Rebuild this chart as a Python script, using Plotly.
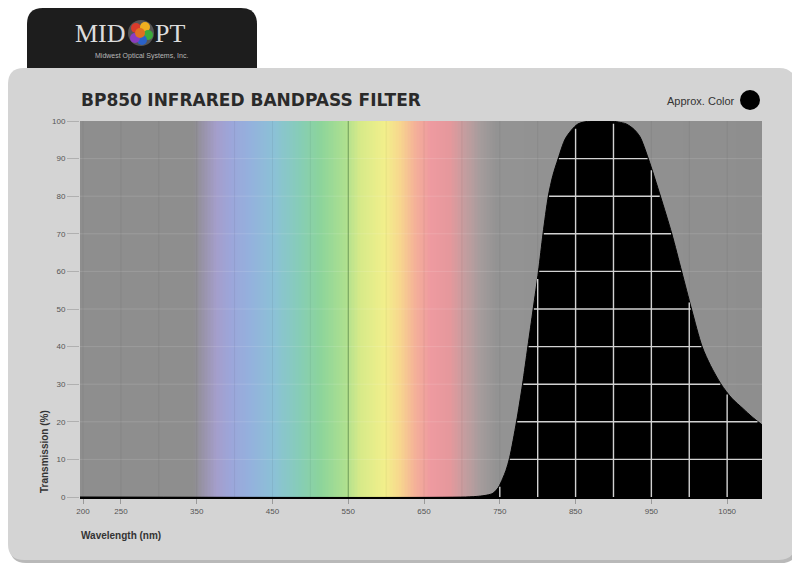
import numpy as np
import plotly.graph_objects as go

# ---------------- data ----------------
wavelength = [196, 705, 722, 733, 741, 748, 754, 758, 763, 772, 780, 787, 794, 801, 807, 814,
              820, 827, 837, 853, 870, 895, 907, 917, 927, 935, 946, 962, 977, 990, 1003,
              1017, 1028, 1042, 1056, 1071, 1083, 1096]
transmission = [0, 0, 0.2, 0.5, 1, 2.5, 5, 7, 10.5, 20, 30, 40, 50, 60, 70, 80,
                85.5, 90, 95.5, 99.2, 100, 100, 99.7, 99.2, 97.8, 95.8, 90, 80, 70, 60, 50,
                40, 35, 30, 26.3, 23.5, 21.3, 19.2]

x_tick_vals = [200, 250, 350, 450, 550, 650, 750, 850, 950, 1050]
x_tick_text = ["200", "250", "350", "450", "550", "650", "750", "850", "950", "1050"]
y_tick_vals = [0, 10, 20, 30, 40, 50, 60, 70, 80, 90, 100]
grid_x = list(range(200, 1100, 50))
grid_y = [10, 20, 30, 40, 50, 60, 70, 80, 90]

spectrum_nm = [196, 345, 358, 376, 396, 420, 453, 486, 513, 546, 565, 598, 618, 638, 658,
               684, 704, 724, 745, 1096]
spectrum_colors = ["#8e8e8e", "#8e8e8e", "#9893a8", "#a49ecb", "#9ca6da", "#94b1dd", "#8bc2d6",
                   "#86cdb6", "#8cd49b", "#aee08f", "#d6ea89", "#f2ef8b", "#f7d68e", "#f4b198",
                   "#ee9aa0", "#e5989c", "#c49d9f", "#a59c9c", "#939393", "#8e8e8e"]

X0, X1 = 196, 1096

# ---------------- layout geometry (page pixels, figure starts at 8,8) ----------------
OFF = 8
W, H = 792, 558
L, R, T, B = 72, 38, 113, 69
PW, PH = W - L - R, H - T - B


def px(x):
    return (x - OFF - L) / PW


def py(y):
    return (H - B - (y - OFF)) / PH


def rrect(x0, y0, x1, y1, r, top_only=False):
    rx, ry = r / PW, r / PH
    a, b, c, d = px(x0), px(x1), py(y0), py(y1)  # c top, d bottom
    if top_only:
        return (f"M {a},{d} L {a},{c - ry} Q {a},{c} {a + rx},{c} L {b - rx},{c} "
                f"Q {b},{c} {b},{c - ry} L {b},{d} Z")
    return (f"M {a + rx},{d} L {b - rx},{d} Q {b},{d} {b},{d + ry} L {b},{c - ry} "
            f"Q {b},{c} {b - rx},{c} L {a + rx},{c} Q {a},{c} {a},{c - ry} "
            f"L {a},{d + ry} Q {a},{d} {a + rx},{d} Z")


fig = go.Figure()

# spectrum background
sx = np.arange(X0, X1 + 1, 2)
cs = [[(n - X0) / (X1 - X0), c] for n, c in zip(spectrum_nm, spectrum_colors)]
fig.add_trace(go.Heatmap(x=sx, y=[-5, 105], z=[sx, sx], colorscale=cs, zmin=X0, zmax=X1,
                         showscale=False, hoverinfo="skip"))

# faint grid over the background
hx, hy = [], []
for g in grid_y:
    hx += [X0, X1, None]
    hy += [g, g, None]
fig.add_trace(go.Scatter(x=hx, y=hy, mode="lines", line=dict(color="rgba(255,255,255,0.13)", width=1),
                         hoverinfo="skip", showlegend=False))
vx, vy = [], []
for g in grid_x:
    vx += [g, g, None]
    vy += [0, 100, None]
fig.add_trace(go.Scatter(x=vx, y=vy, mode="lines", line=dict(color="rgba(0,0,0,0.06)", width=1),
                         hoverinfo="skip", showlegend=False))
fig.add_trace(go.Scatter(x=[550, 550], y=[0, 100], mode="lines",
                         line=dict(color="rgba(40,90,40,0.45)", width=1),
                         hoverinfo="skip", showlegend=False))

# transmission curve
fig.add_trace(go.Scatter(x=wavelength, y=transmission, mode="lines", fill="tozeroy",
                         fillcolor="#000000", line=dict(color="#000000", width=1, shape="spline",
                                                        smoothing=0.8),
                         showlegend=False))

# white grid clipped to the area under the curve
wl = np.array(wavelength, float)
tr = np.array(transmission, float)
ipk = int(np.argmax(tr))
gx, gy = [], []
for g in grid_y:
    rise_w, rise_t = wl[:ipk + 1], tr[:ipk + 1]
    xl = np.interp(g, rise_t, rise_w) + 1
    fall_w, fall_t = wl[ipk:][::-1], tr[ipk:][::-1]
    xr = X1 if g <= tr[-1] else np.interp(g, fall_t, fall_w) - 1
    gx += [xl, xr, None]
    gy += [g, g, None]
for g in grid_x:
    top = float(np.interp(g, wl, tr))
    if top > 0.5:
        gx += [g, g, None]
        gy += [0, top - 0.6, None]
fig.add_trace(go.Scatter(x=gx, y=gy, mode="lines", line=dict(color="#d2d2d2", width=1.4),
                         hoverinfo="skip", showlegend=False))

# ---------------- decorations ----------------
shapes = [
    dict(type="path", path=rrect(10, 70, 797, 563, 16), xref="paper", yref="paper",
         fillcolor="#b9b9b9", line=dict(width=0), layer="below"),
    dict(type="path", path=rrect(8, 68, 795, 560, 16), xref="paper", yref="paper",
         fillcolor="#d4d4d4", line=dict(width=0), layer="below"),
    dict(type="path", path=rrect(27, 8, 257, 68, 16, top_only=True), xref="paper", yref="paper",
         fillcolor="#1d1d1d", line=dict(width=0), layer="below"),
    dict(type="circle", xref="paper", yref="paper", x0=px(740), x1=px(760), y0=py(110), y1=py(90),
         fillcolor="#000000", line=dict(width=0)),
]
ball = [("#d93b2b", -5, -5), ("#f0b020", 4, -6), ("#3cab3c", 7, 2), ("#2a62c9", 1, 7),
        ("#8a3cc0", -6, 5), ("#e07020", -1, 0)]
shapes.append(dict(type="circle", xref="paper", yref="paper", x0=px(128), x1=px(154),
                   y0=py(46), y1=py(20), fillcolor="#555555", line=dict(width=0)))
for col, dx, dy in ball:
    cx, cy = 141 + dx, 33 + dy
    shapes.append(dict(type="circle", xref="paper", yref="paper", x0=px(cx - 5), x1=px(cx + 5),
                       y0=py(cy + 5), y1=py(cy - 5), fillcolor=col, line=dict(width=0)))

annotations = [
    dict(x=px(128), y=py(34), xref="paper", yref="paper", xanchor="right", yanchor="middle",
         text="MID", showarrow=False, font=dict(family="Liberation Serif", size=26, color="#dcdcdc")),
    dict(x=px(153), y=py(34), xref="paper", yref="paper", xanchor="left", yanchor="middle",
         text="PT", showarrow=False, font=dict(family="Liberation Serif", size=26, color="#dcdcdc")),
    dict(x=px(141), y=py(56), xref="paper", yref="paper", xanchor="center", yanchor="middle",
         text="Midwest Optical Systems, Inc.", showarrow=False,
         font=dict(family="Liberation Sans", size=7, color="#b8b8b8")),
    dict(x=px(79), y=py(100), xref="paper", yref="paper", xanchor="left", yanchor="middle",
         text="<b>BP850</b> <b>INFRARED BANDPASS FILTER</b>", showarrow=False,
         font=dict(family="DejaVu Sans", size=17, color="#2a2a2a")),
    dict(x=px(737), y=py(101), xref="paper", yref="paper", xanchor="right", yanchor="middle",
         text="Approx. Color", showarrow=False,
         font=dict(family="Liberation Sans", size=11, color="#333333")),
    dict(x=px(79), y=py(535), xref="paper", yref="paper", xanchor="left", yanchor="middle",
         text="<b>Wavelength (nm)</b>", showarrow=False,
         font=dict(family="Liberation Sans", size=10, color="#333333")),
    dict(x=px(44), y=py(452), xref="paper", yref="paper", xanchor="center", yanchor="middle",
         text="<b>Transmission (%)</b>", textangle=-90, showarrow=False,
         font=dict(family="Liberation Sans", size=10, color="#333333")),
]

fig.update_layout(
    width=W, height=H, margin=dict(l=L, r=R, t=T, b=B),
    paper_bgcolor="#ffffff", plot_bgcolor="#8e8e8e",
    shapes=shapes, annotations=annotations, showlegend=False,
    xaxis=dict(range=[X0, X1], tickvals=x_tick_vals, ticktext=x_tick_text, showgrid=False,
               zeroline=False, showline=True, linecolor="#000000", linewidth=2,
               ticks="outside", ticklen=5, tickcolor="#9a9a9a",
               tickfont=dict(family="Liberation Sans", size=8, color="#555555")),
    yaxis=dict(range=[0, 100], tickvals=y_tick_vals, showgrid=False, zeroline=False,
               ticks="outside", ticklen=12, tickcolor="#b0b0b0",
               tickfont=dict(family="Liberation Sans", size=8, color="#555555")),
)

fig.write_html("out.html")
